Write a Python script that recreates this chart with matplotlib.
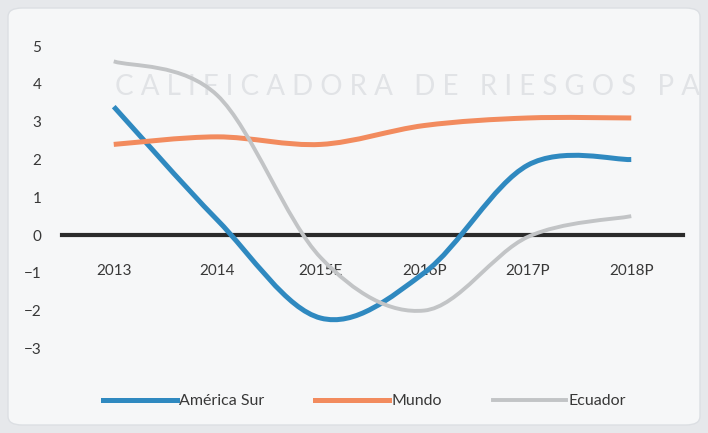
import matplotlib
matplotlib.use("Agg")
import matplotlib.pyplot as plt
import numpy as np
from matplotlib.path import Path
from matplotlib.patches import PathPatch, FancyBboxPatch
from matplotlib.lines import Line2D

# crecimiento del PIB (%)
years = ["2013", "2014", "2015E", "2016P", "2017P", "2018P"]
america_sur = [3.4, 0.4, -2.2, -1.0, 1.85, 2.0]
mundo = [2.4, 2.6, 2.4, 2.9, 3.1, 3.1]
ecuador = [4.6, 3.7, -0.6, -2.0, -0.05, 0.5]

series = [
    ("América Sur", america_sur, "#2f89c0", 3.6),
    ("Mundo", mundo, "#f28b5e", 3.6),
    ("Ecuador", ecuador, "#c2c4c6", 2.8),
]

plt.rcParams["font.family"] = ["Lato", "DejaVu Sans"]


def smooth_path(x, y):
    # curva suavizada tipo Excel: bezier cubica por tramos
    pts = np.column_stack([x, y]).astype(float)
    n = len(pts)
    verts = [pts[0]]
    codes = [Path.MOVETO]
    for i in range(n - 1):
        p0 = pts[i - 1] if i > 0 else pts[i]
        p1 = pts[i]
        p2 = pts[i + 1]
        p3 = pts[i + 2] if i + 2 < n else pts[i + 1]
        c1 = p1 + (p2 - p0) / 6.0
        c2 = p2 - (p3 - p1) / 6.0
        verts += [c1, c2, p2]
        codes += [Path.CURVE4] * 3
    return Path(verts, codes)


fig = plt.figure(figsize=(7.08, 4.33), dpi=100)
fig.patch.set_facecolor("#e6e8eb")

# panel de fondo
panel = FancyBboxPatch((8 / 708, 8 / 433), 692 / 708, 417 / 433,
                       boxstyle="round,pad=0,rounding_size=0.02",
                       transform=fig.transFigure, facecolor="#f6f7f8",
                       edgecolor="#dcdfe3", linewidth=1.0, zorder=-2)
fig.patches.append(panel)

# marca de agua
fig.text(0.575, 0.80, "C A L I F I C A D O R A   D E   R I E S G O S   P A",
         ha="center", va="center", fontsize=20, color="#e1e3e6", zorder=-1)

ax = fig.add_axes([62 / 708, 1 - 360 / 433, 621 / 708, 330 / 433])
ax.set_facecolor("none")
ax.set_zorder(2)

x = np.arange(len(years))
for name, vals, color, lw in series:
    patch = PathPatch(smooth_path(x, vals), facecolor="none", edgecolor=color,
                      linewidth=lw, capstyle="butt", zorder=3)
    ax.add_patch(patch)

ax.set_xlim(-0.5, 5.5)
ax.set_ylim(-3.31, 5.43)

for s in ["top", "right", "left"]:
    ax.spines[s].set_visible(False)
ax.spines["bottom"].set_position(("data", 0))
ax.spines["bottom"].set_color("#2b2b2b")
ax.spines["bottom"].set_linewidth(3)
ax.spines["bottom"].set_zorder(2)

ax.set_xticks(x)
ax.set_xticklabels(years)
ax.set_yticks(range(-3, 6))
ax.tick_params(axis="x", length=0, pad=21, labelsize=11, labelcolor="#383838")
ax.tick_params(axis="y", length=0, pad=15, labelsize=11, labelcolor="#383838")

handles = [Line2D([], [], color=c, linewidth=lw) for _, _, c, lw in series]
fig.legend(handles, [s[0] for s in series], loc="center",
           bbox_to_anchor=(0.515, 1 - 401 / 433), ncol=3, frameon=False,
           handlelength=4.6, handletextpad=0.15, columnspacing=3.2,
           fontsize=11.5, labelcolor="#383838")

fig.savefig("out.png", dpi=100, facecolor=fig.get_facecolor())
